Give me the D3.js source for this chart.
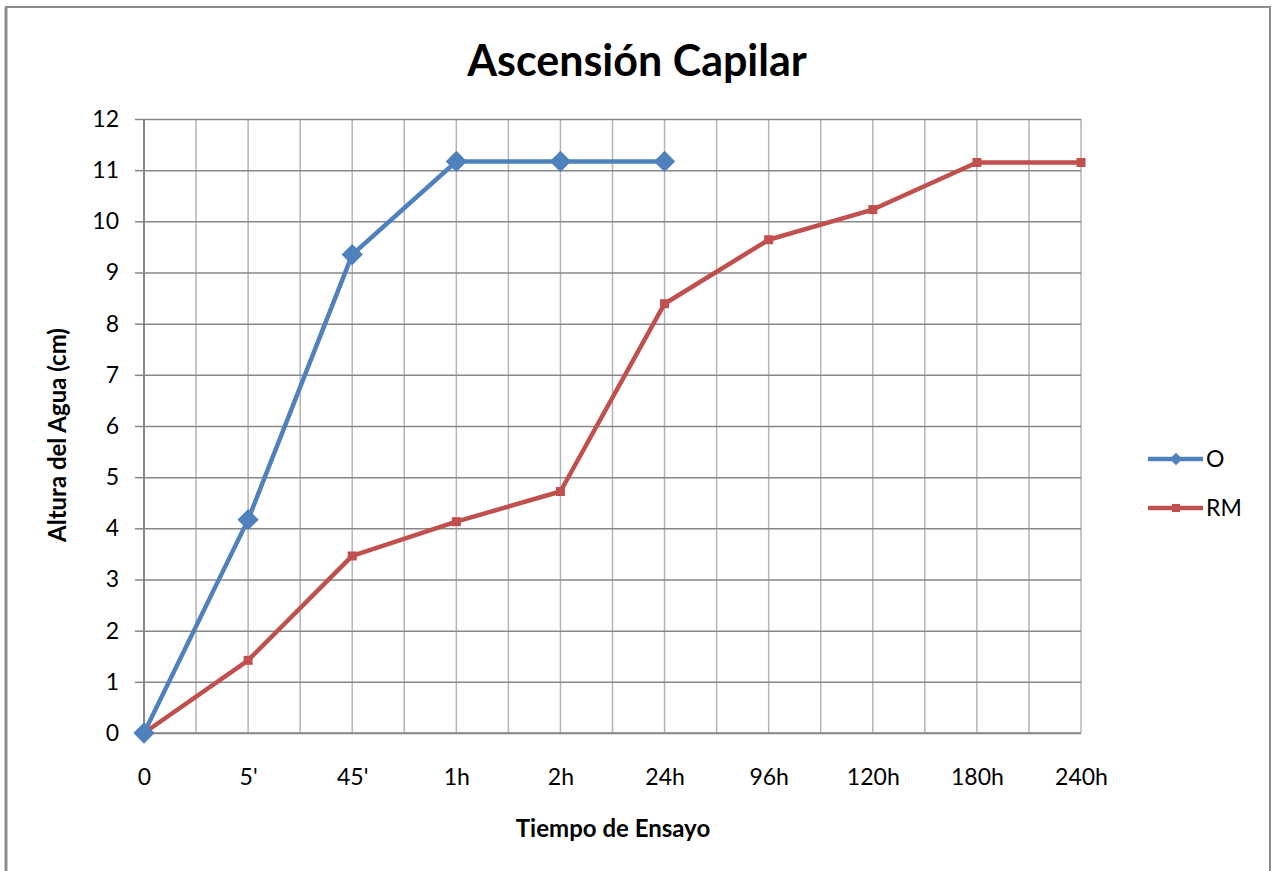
<!DOCTYPE html>
<html>
<head>
<meta charset="utf-8">
<script src="https://cdn.jsdelivr.net/npm/d3@7"></script>
<style>
  html, body { margin: 0; padding: 0; background: #fff; }
  svg { display: block; }
  text { font-family: Lato, "Open Sans", "DejaVu Sans", sans-serif; fill: #000; }
</style>
</head>
<body>
<svg id="chart" width="1273" height="871"></svg>
<script>
// Test times (category axis)
const categories = ["0", "5'", "45'", "1h", "2h", "24h", "96h", "120h", "180h", "240h"];
// Water height (cm) per series
const seriesO  = [0, 4.17, 9.35, 11.17, 11.17, 11.17];
const seriesRM = [0, 1.42, 3.46, 4.13, 4.72, 8.39, 9.64, 10.23, 11.15, 11.15];
const yTicks = [0, 1, 2, 3, 4, 5, 6, 7, 8, 9, 10, 11, 12];
const seriesNames = ["O", "RM"];

const svg = d3.select("#chart");
const plot = { left: 144, right: 1081, top: 119, bottom: 733 };

// outer chart frame
svg.append("rect")
  .attr("x", 6).attr("y", 7)
  .attr("width", 1264).attr("height", 880)
  .attr("fill", "#fff").attr("stroke", "#8c8c8c").attr("stroke-width", 2);
svg.append("line").attr("x1", 6).attr("x2", 6).attr("y1", 7).attr("y2", 871)
  .attr("stroke", "#8c8c8c").attr("stroke-width", 3);

const x = d3.scalePoint().domain(categories).range([plot.left, plot.right]);
const y = d3.scaleLinear().domain([0, 12]).range([plot.bottom, plot.top]);

// vertical gridlines: at each category and halfway between
const step = x.step();
const vGrid = [];
categories.forEach((c, i) => {
  vGrid.push(x(c));
  if (i < categories.length - 1) vGrid.push(x(c) + step / 2);
});
svg.append("g").selectAll("line").data(vGrid.slice(1)).join("line")
  .attr("x1", d => d).attr("x2", d => d)
  .attr("y1", plot.top).attr("y2", plot.bottom)
  .attr("stroke", "#b4b4b4").attr("stroke-width", 1.5);

// horizontal gridlines + y axis
const yAxis = d3.axisLeft(y).tickValues(yTicks).tickSize(-(plot.right - plot.left)).tickPadding(25).tickFormat(d3.format("d"));
const gy = svg.append("g").attr("transform", `translate(${plot.left},0)`).call(yAxis);
gy.select(".domain").remove();
gy.selectAll(".tick line").attr("stroke", "#878787").attr("stroke-width", 1.5);
gy.selectAll(".tick").append("line")
  .attr("x1", -9).attr("x2", 0).attr("stroke", "#878787").attr("stroke-width", 1.5);
gy.selectAll(".tick text")
  .style("font-size", "23px").attr("fill", "#000");

// axis lines
svg.append("line").attr("x1", plot.left).attr("x2", plot.left)
  .attr("y1", plot.top).attr("y2", plot.bottom)
  .attr("stroke", "#878787").attr("stroke-width", 2);
svg.append("line").attr("x1", plot.left).attr("x2", plot.right)
  .attr("y1", plot.bottom).attr("y2", plot.bottom)
  .attr("stroke", "#878787").attr("stroke-width", 1.5);

// x axis labels
const xAxis = d3.axisBottom(x).tickSize(0).tickPadding(36);
const gx = svg.append("g").attr("transform", `translate(0,${plot.bottom})`).call(xAxis);
gx.select(".domain").remove();
gx.selectAll(".tick text").style("font-size", "23px").attr("fill", "#000");

// titles
svg.append("text").attr("x", 637).attr("y", 76).attr("text-anchor", "middle")
  .style("font-size", "43px").style("font-weight", "bold").text("Ascensión Capilar");
svg.append("text").attr("x", 613).attr("y", 837).attr("text-anchor", "middle")
  .style("font-size", "24px").style("font-weight", "bold").text("Tiempo de Ensayo");
svg.append("text").attr("transform", "translate(66,435) rotate(-90)").attr("text-anchor", "middle")
  .style("font-size", "24px").style("font-weight", "bold").text("Altura del Agua (cm)");

// series
const colors = { O: "#4f81bd", RM: "#c0504d" };
const line = d3.line().x((d, i) => x(categories[i])).y(d => y(d));

const diamond = d3.symbol().type(d3.symbolDiamond2);

function drawSeries(vals, color, markerFn) {
  svg.append("path").datum(vals)
    .attr("d", line).attr("fill", "none")
    .attr("stroke", color).attr("stroke-width", 4.5).attr("stroke-linejoin", "round");
  const g = svg.append("g");
  vals.forEach((v, i) => markerFn(g, x(categories[i]), y(v), color));
}

function diamondMarker(g, cx, cy, color, half = 12) {
  g.append("path")
    .attr("d", diamond.size(2 * half * half)())
    .attr("transform", `translate(${cx},${cy})`)
    .attr("fill", color);
}
function squareMarker(g, cx, cy, color, s = 9) {
  g.append("rect")
    .attr("x", cx - s / 2).attr("y", cy - s / 2)
    .attr("width", s).attr("height", s).attr("fill", color);
}

drawSeries(seriesRM, colors.RM, (g, cx, cy, c) => squareMarker(g, cx, cy, c));
drawSeries(seriesO, colors.O, (g, cx, cy, c) => diamondMarker(g, cx, cy, c));

// legend
const legend = svg.append("g");
const legendRows = [
  { name: seriesNames[0], y: 459, color: colors.O, marker: "diamond" },
  { name: seriesNames[1], y: 508, color: colors.RM, marker: "square" }
];
legendRows.forEach(r => {
  legend.append("line").attr("x1", 1148).attr("x2", 1203)
    .attr("y1", r.y).attr("y2", r.y)
    .attr("stroke", r.color).attr("stroke-width", 4.5);
  if (r.marker === "diamond") diamondMarker(legend, 1176, r.y, r.color, 7);
  else squareMarker(legend, 1176, r.y, r.color, 8);
  legend.append("text").attr("x", 1206).attr("y", r.y + 8)
    .style("font-size", "23px").text(r.name);
});
</script>
</body>
</html>
